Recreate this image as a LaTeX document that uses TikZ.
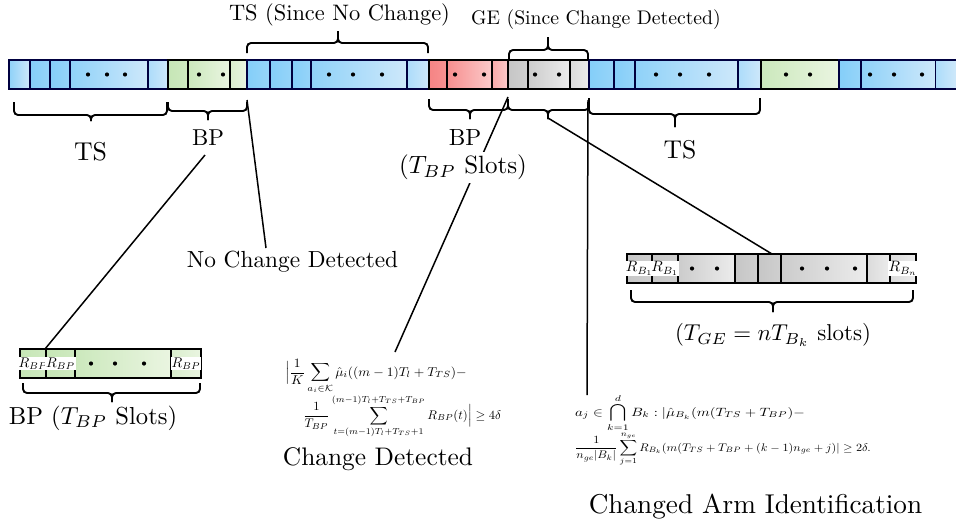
\documentclass[tikz,border=0pt]{standalone}
\usepackage{amsmath,amssymb}
\usepackage{graphicx}
\definecolor{bluL}{RGB}{132,206,249}
\definecolor{bluR}{RGB}{206,232,250}
\definecolor{grnL}{RGB}{198,230,182}
\definecolor{grnR}{RGB}{234,245,225}
\definecolor{redL}{RGB}{246,132,132}
\definecolor{redR}{RGB}{252,202,202}
\definecolor{gryL}{RGB}{198,198,198}
\definecolor{gryR}{RGB}{236,236,236}
\newcommand\mycell[5]{\draw[cellline,#5] (#1,#3) rectangle (#2,#4);}
\newcommand\hbrace[6]{%
  \draw[brc] (#1,#3) -- (#1,#4) -- (#6,#4) -- (#6,#5);
  \draw[brc] (#2,#3) -- (#2,#4) -- (#6,#4) -- (#6,#5);}
\begin{document}
\begin{tikzpicture}[x=1pt,y=-1pt,
  cellline/.style={draw=black, line width=1.1pt},
  sh/.style n args={2}{left color=#1, right color=#2},
  bd/.style={sh={bluL}{bluL!75!bluR}, draw=black!75!blue},
  bw/.style={sh={bluL!85!bluR}{bluR}, draw=black!75!blue},
  bl/.style={sh={bluL!45!bluR}{bluR}, draw=black!75!blue},
  gd/.style={sh={grnL}{grnL!75!grnR}},
  gw/.style={sh={grnL!85!grnR}{grnR}},
  gl/.style={sh={grnL!45!grnR}{grnR}},
  rd/.style={sh={redL}{redL!80!redR}},
  rw/.style={sh={redL!85!redR}{redR}},
  rl/.style={sh={redL!45!redR}{redR}},
  yd/.style={sh={gryL}{gryL!75!gryR}},
  yw/.style={sh={gryL!85!gryR}{gryR}},
  yl/.style={sh={gryL!45!gryR}{gryR}},
  brc/.style={line width=1.9pt, rounded corners=4pt},
  conn/.style={line width=1.5pt},
  lbl/.style={inner sep=0pt, outer sep=0pt},
  wlbl/.style={inner sep=3pt, fill=white},
  rlbl/.style={inner sep=0.6pt, fill=white},
  fml/.style={inner sep=0pt, outer sep=0pt, anchor=base west},
  dot/.style={circle, fill=black, inner sep=0pt, minimum size=4.2pt}]
\useasboundingbox (0,0) rectangle (956,525);
\fill[white] (0,0) rectangle (956,525);
% ---------- main bar ----------
\mycell{9}{30}{60}{89}{bw}
\mycell{30}{50}{60}{89}{bd}
\mycell{50}{70}{60}{89}{bd}
\mycell{70}{148}{60}{89}{bw}
\mycell{148}{168}{60}{89}{bl}
\mycell{168}{188}{60}{89}{gd}
\mycell{188}{230}{60}{89}{gw}
\mycell{230}{247}{60}{89}{gl}
\mycell{247}{270}{60}{89}{bd}
\mycell{270}{292}{60}{89}{bd}
\mycell{292}{311}{60}{89}{bd}
\mycell{311}{407}{60}{89}{bw}
\mycell{407}{429}{60}{89}{bl}
\mycell{429}{447}{60}{89}{rd}
\mycell{447}{492}{60}{89}{rw}
\mycell{492}{508}{60}{89}{rl}
\mycell{508}{528}{60}{89}{yd}
\mycell{528}{570}{60}{89}{yw}
\mycell{570}{589}{60}{89}{yl}
\mycell{589}{614}{60}{89}{bd}
\mycell{614}{635}{60}{89}{bd}
\mycell{635}{738}{60}{89}{bw}
\mycell{738}{761}{60}{89}{bl}
\mycell{761}{839}{60}{89}{gw}
\mycell{839}{861}{60}{89}{bd}
\mycell{861}{936}{60}{89}{bw}
\shade[sh={bluL!45!bluR}{bluR}] (936,60) rectangle (956,89);
\draw[cellline, draw=black!75!blue] (936,60) -- (956,60) (936,89) -- (956,89);
\foreach \x in {88,107,125,199,223,329,353,382,455,484,535,559,656,680,709,786,810,870,894,922}
  \node[dot] at (\x,74.5) {};
% ---------- small grey bar ----------
\mycell{627}{652}{254}{283}{yd}
\mycell{652}{678}{254}{283}{yd}
\mycell{678}{735}{254}{283}{yw}
\mycell{735}{758}{254}{283}{yd}
\mycell{758}{781}{254}{283}{yd}
\mycell{781}{867}{254}{283}{yw}
\mycell{867}{890}{254}{283}{yl}
\mycell{890}{916}{254}{283}{yl}
\foreach \x in {692,717,802,827,855} \node[dot] at (\x,268.5) {};
\node[rlbl] (rb1) at (639.5,268.5) {\scalebox{1.5}{$R_{B_1}$}};
\node[rlbl] (rb2) at (665,268.5) {\scalebox{1.5}{$R_{B_1}$}};
\node[rlbl] (rbn) at (903,268.5) {\scalebox{1.5}{$R_{B_n}$}};
% ---------- small green bar ----------
\mycell{20}{46}{349}{378}{gd}
\mycell{46}{75}{349}{378}{gd}
\mycell{75}{171}{349}{378}{gw}
\mycell{171}{201}{349}{378}{gl}
\foreach \x in {91,115,144} \node[dot] at (\x,363.5) {};
\node[rlbl] (rbp1) at (33,363.5) {\scalebox{1.4}{$R_{BP}$}};
\node[rlbl] (rbp2) at (60.5,363.5) {\scalebox{1.4}{$R_{BP}$}};
\node[rlbl] (rbp3) at (186,363.5) {\scalebox{1.4}{$R_{BP}$}};
% ---------- braces ----------
\hbrace{247}{428}{53}{43}{31}{338}
\hbrace{509}{588}{60}{50}{37}{548}
\hbrace{14}{167}{102}{115}{121}{91}
\hbrace{168}{247}{102}{111}{120}{208}
\hbrace{429}{508}{99}{110}{119}{470}
\hbrace{508}{589}{99}{110}{119}{548}
\hbrace{589}{760}{98}{114}{127}{675}
\hbrace{631}{913}{290}{302}{312}{773}
\hbrace{23}{200}{383}{393}{402}{112}
% ---------- connector end points ----------
\coordinate (bpLfoot) at (205,155);
\coordinate (gbarTop) at (45,349);
\coordinate (bpBraceEnd) at (247,100);
\coordinate (noChTop) at (266,248);
\coordinate (redEnd) at (508,97);
\coordinate (f1Top) at (395,352);
\coordinate (geTip) at (548,118);
\coordinate (ybarTop) at (772,254);
\coordinate (geEnd) at (588,100);
\coordinate (f2Top) at (587,395);
% ---------- connectors ----------
\draw[conn] (bpLfoot) -- (gbarTop);
\draw[conn] (bpBraceEnd) -- (noChTop);
\draw[conn] (redEnd) -- (f1Top);
\draw[conn] (geTip) -- (ybarTop);
\draw[conn] (geEnd) -- (f2Top);
% ---------- labels ----------
\node[lbl] (tsTop) at (339.5,15) {\scalebox{2.24}{TS (Since No Change)}};
\node[lbl] (geTop) at (596,20) {\scalebox{1.97}{GE (Since Change Detected)}};
\node[lbl] (tsL) at (90.5,152) {\scalebox{2.58}{TS}};
\node[lbl] (bpL) at (208,138) {\scalebox{2.3}{BP}};
\node[lbl] (bpM) at (465,137.6) {\scalebox{2.34}{BP}};
\node[wlbl] (bpMs) at (463,167) {\scalebox{2.5}{($T_{BP}$ Slots)}};
\node[lbl] (tsR) at (680,150) {\scalebox{2.57}{TS}};
\node[lbl] (noCh) at (292.5,262) {\scalebox{2.33}{No Change Detected}};
\node[lbl] (geSlots) at (773,335) {\scalebox{2.29}{($T_{GE}=nT_{B_k}$ slots)}};
\node[lbl] (bpSl) at (93,418) {\scalebox{2.46}{BP ($T_{BP}$ Slots)}};
\node[lbl] (chDet) at (378,459) {\scalebox{2.54}{Change Detected}};
\node[lbl] (chArm) at (755.5,507) {\scalebox{2.72}{Changed Arm Identification}};
% ---------- formulas ----------
\node[fml] (f1a) at (285,376) {\scalebox{1.35}[1.28]{$\displaystyle \Big|\frac{1}{K}\sum_{a_i\in\mathcal{K}}\hat{\mu}_i((m-1)T_l+T_{TS})-$}};
\node[fml] (f1b) at (303,419) {\scalebox{1.26}[1.25]{$\displaystyle \frac{1}{T_{BP}}\sum_{t=(m-1)T_l+T_{TS}+1}^{(m-1)T_l+T_{TS}+T_{BP}} R_{BP}(t)\Big|\geq 4\delta$}};
\node[fml] (f2a) at (575,416) {\scalebox{1.48}[1.2]{$\displaystyle a_j\in\bigcap_{k=1}^{d}B_k:|\hat{\mu}_{B_k}(m(T_{TS}+T_{BP})-$}};
\node[fml] (f2b) at (575,451) {\scalebox{1.22}[1.1]{$\displaystyle \frac{1}{n_{ge}|B_k|}\sum_{j=1}^{n_{ge}}R_{B_k}(m(T_{TS}+T_{BP}+(k-1)n_{ge}+j)|\geq 2\delta.$}};
\end{tikzpicture}
\end{document}
